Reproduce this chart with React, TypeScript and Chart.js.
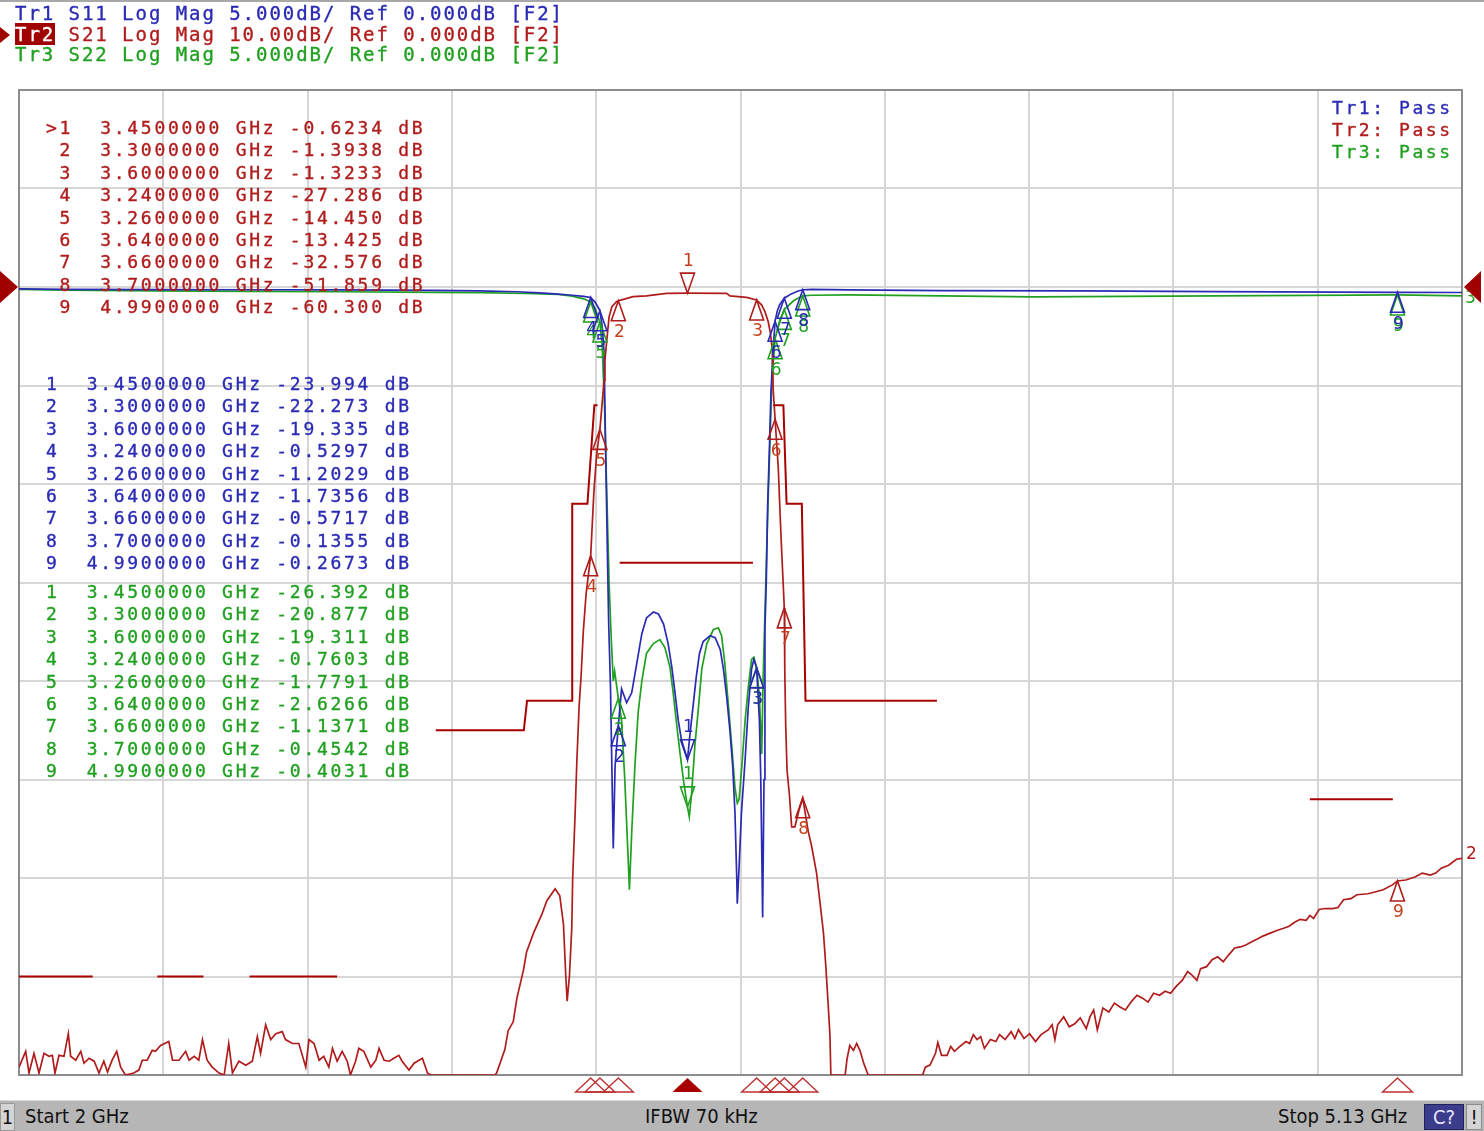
import React, { useEffect, useRef } from "react";
import { Chart, registerables } from "chart.js";

Chart.register(...registerables);

// ---- scale settings ----
const FREQ_START = 2;
const FREQ_STOP = 5.13;
const X_GRID = [2, 2.313, 2.626, 2.939, 3.252, 3.565, 3.878, 4.191, 4.504, 4.817, 5.13];
const S21_RANGE = [-80, 20]; // 10 dB/div, ref 0 dB at div 8
const S11_RANGE = [-40, 10]; // 5 dB/div, ref 0 dB at div 8

// ---- traces: [frequency GHz, dB] ----
const s21Trace: [number, number][] = [
  [2.000,-79.2],[2.0145,-77.6],[2.0217,-79.8],[2.0325,-77.8],[2.0434,-79.8],[2.0542,-77.8],[2.065,-78.1],[2.0723,-78.0],[2.078,-79.8],[2.0868,-78.0],
  [2.0976,-78.1],[2.107,-75.8],[2.112,-78.1],[2.123,-78.5],[2.134,-77.6],[2.141,-78.8],[2.152,-78.3],[2.163,-78.6],[2.1735,-79.8],[2.184,-78.6],
  [2.192,-79.7],[2.202,-78.5],[2.212,-77.6],[2.2205,-79.2],[2.231,-80.0],[2.249,-79.8],[2.260,-79.5],[2.2675,-78.5],[2.278,-78.5],[2.289,-77.5],
  [2.296,-77.6],[2.307,-77.0],[2.325,-76.6],[2.333,-78.5],[2.347,-78.5],[2.3615,-77.6],[2.369,-78.5],[2.380,-78.1],[2.390,-78.5],[2.398,-76.4],
  [2.408,-78.5],[2.419,-79.2],[2.434,-79.8],[2.445,-80.0],[2.455,-76.8],[2.463,-79.8],[2.477,-78.6],[2.492,-79.0],[2.506,-78.6],[2.517,-76.1],
  [2.524,-77.8],[2.535,-74.9],[2.546,-76.4],[2.557,-75.8],[2.571,-75.6],[2.578,-76.4],[2.593,-76.8],[2.607,-76.8],[2.622,-79.2],[2.629,-76.4],
  [2.640,-76.8],[2.651,-78.5],[2.661,-78.1],[2.672,-79.2],[2.680,-77.3],[2.690,-78.6],[2.701,-77.6],[2.712,-78.6],[2.719,-80.0],[2.730,-78.6],
  [2.737,-77.3],[2.748,-77.6],[2.763,-79.2],[2.774,-78.5],[2.781,-77.3],[2.792,-78.5],[2.803,-78.6],[2.813,-78.3],[2.824,-78.0],[2.831,-78.6],
  [2.846,-79.5],[2.857,-78.8],[2.875,-78.3],[2.886,-79.8],[2.893,-80.0],[2.954,-80.0],[3.032,-80.0],
  [3.036,-79.8],[3.054,-77.4],[3.061,-75.5],[3.072,-74.6],[3.080,-72.2],[3.094,-69.4],[3.101,-67.5],[3.116,-65.6],[3.134,-63.7],[3.145,-62.3],
  [3.163,-61.1],[3.173,-61.8],[3.181,-64.7],[3.186,-69.9],[3.189,-72.5],[3.194,-69.9],[3.199,-65.1],[3.201,-60.0],[3.206,-53.8],[3.210,-48.2],
  [3.215,-42.5],[3.219,-39.7],[3.224,-35.0],[3.230,-31.2],[3.240,-27.3],[3.247,-20.8],[3.253,-17.0],[3.260,-14.45],[3.264,-12.3],[3.269,-9.5],
  [3.271,-7.4],[3.275,-5.4],[3.280,-3.0],[3.286,-2.0],[3.296,-1.5],[3.300,-1.39],[3.311,-1.25],[3.332,-0.98],[3.361,-0.91],[3.405,-0.64],
  [3.450,-0.62],[3.535,-0.64],[3.542,-0.91],[3.578,-1.05],[3.600,-1.32],[3.611,-1.83],[3.618,-2.5],[3.625,-3.5],[3.630,-4.7],[3.634,-6.4],
  [3.636,-10.5],[3.640,-13.4],[3.647,-18.4],[3.651,-23.2],[3.654,-26.5],[3.660,-32.6],[3.661,-38.7],[3.663,-44.4],[3.666,-49.1],[3.671,-51.5],
  [3.676,-54.8],[3.683,-54.8],[3.692,-53.1],[3.700,-51.9],[3.712,-55.3],[3.719,-56.7],[3.730,-59.5],[3.737,-62.3],[3.745,-65.6],[3.750,-68.9],
  [3.755,-72.7],[3.759,-76.0],[3.761,-80.0],[3.792,-80.0],[3.796,-78.4],[3.802,-77.0],[3.810,-77.5],[3.817,-76.8],[3.824,-77.5],[3.833,-78.9],
  [3.842,-80.0],[3.960,-80.0],
  [3.966,-79.2],[3.976,-79.0],[3.988,-77.8],[3.993,-76.7],[4.001,-78.0],[4.013,-78.0],[4.021,-77.1],[4.029,-77.6],[4.041,-77.1],[4.054,-76.6],
  [4.062,-76.8],[4.070,-75.9],[4.078,-76.4],[4.086,-76.1],[4.094,-77.3],[4.107,-76.4],[4.119,-76.6],[4.127,-75.9],[4.139,-76.4],[4.152,-75.6],
  [4.160,-76.3],[4.168,-75.4],[4.180,-76.3],[4.192,-75.8],[4.205,-76.6],[4.217,-75.9],[4.233,-75.4],[4.241,-74.9],[4.247,-76.4],[4.253,-74.9],
  [4.266,-74.1],[4.278,-75.1],[4.290,-74.8],[4.302,-74.2],[4.315,-75.3],[4.323,-74.1],[4.331,-73.4],[4.339,-75.4],[4.351,-73.2],[4.364,-73.6],
  [4.376,-72.7],[4.388,-73.1],[4.400,-73.4],[4.412,-72.6],[4.425,-71.9],[4.437,-72.2],[4.449,-72.6],[4.461,-71.7],[4.474,-71.9],[4.486,-71.5],
  [4.498,-71.7],[4.510,-71.0],[4.523,-70.4],[4.535,-69.5],[4.543,-69.8],[4.555,-70.4],[4.563,-69.2],[4.576,-69.0],[4.588,-68.3],[4.600,-68.0],
  [4.612,-68.5],[4.624,-67.8],[4.637,-67.1],[4.649,-67.0],[4.661,-66.8],[4.673,-66.5],[4.686,-66.2],[4.698,-65.9],[4.714,-65.6],[4.730,-65.3],
  [4.743,-65.1],[4.755,-64.9],[4.767,-64.5],[4.779,-64.2],[4.792,-64.3],[4.800,-63.8],[4.808,-64.1],[4.820,-63.2],[4.832,-63.1],[4.849,-63.1],
  [4.861,-63.0],[4.873,-62.2],[4.889,-62.1],[4.902,-61.7],[4.926,-61.6],[4.943,-61.4],[4.959,-61.2],[4.979,-60.7],[4.990,-60.3],[5.008,-60.2],
  [5.028,-59.9],[5.044,-59.5],[5.061,-59.7],[5.073,-59.5],[5.085,-59.0],[5.101,-58.7],[5.118,-58.1],[5.130,-58.0],
];

const s11Trace: [number, number][] = [
  [2.000,-0.10],[2.100,-0.12],[2.300,-0.13],[2.500,-0.14],[2.700,-0.15],[2.900,-0.17],[3.000,-0.20],[3.080,-0.24],[3.130,-0.30],[3.170,-0.36],
  [3.200,-0.42],[3.225,-0.48],[3.240,-0.53],[3.250,-0.78],[3.260,-1.20],[3.265,-2.0],[3.269,-3.3],[3.274,-10.4],[3.279,-17.0],[3.283,-20.3],
  [3.289,-28.5],[3.293,-24.3],[3.300,-22.27],[3.307,-20.4],[3.318,-21.1],[3.329,-20.6],[3.340,-19.1],[3.351,-17.6],[3.361,-16.8],[3.376,-16.5],
  [3.387,-16.6],[3.398,-17.1],[3.408,-18.1],[3.416,-19.3],[3.423,-20.6],[3.430,-22.0],[3.437,-23.0],[3.450,-23.99],[3.455,-22.8],[3.462,-21.3],
  [3.469,-19.8],[3.476,-18.6],[3.484,-18.0],[3.499,-17.7],[3.510,-17.8],[3.521,-18.4],[3.528,-19.4],[3.535,-20.8],[3.542,-22.5],[3.548,-24.3],
  [3.553,-26.7],[3.557,-30.1],[3.558,-31.3],[3.562,-29.4],[3.567,-26.7],[3.575,-24.0],[3.582,-21.3],[3.589,-19.4],[3.594,-18.9],[3.600,-19.34],
  [3.606,-22.0],[3.609,-25.0],[3.611,-28.4],[3.613,-32.0],[3.616,-25.0],[3.618,-17.4],[3.621,-14.9],[3.624,-11.0],[3.628,-8.0],[3.631,-5.4],
  [3.635,-3.5],[3.640,-1.74],[3.645,-1.2],[3.650,-0.9],[3.660,-0.57],[3.675,-0.35],[3.690,-0.2],[3.700,-0.14],[3.720,-0.12],[3.800,-0.15],
  [4.000,-0.18],[4.300,-0.20],[4.600,-0.23],[4.990,-0.27],[5.130,-0.28],
];

const s22Trace: [number, number][] = [
  [2.000,-0.12],[2.100,-0.16],[2.300,-0.20],[2.500,-0.22],[2.700,-0.24],[2.900,-0.27],[3.000,-0.29],[3.100,-0.33],[3.170,-0.38],[3.200,-0.46],
  [3.225,-0.60],[3.240,-0.76],[3.250,-1.1],[3.260,-1.78],[3.265,-3.0],[3.270,-6.0],[3.275,-10.5],[3.280,-15.0],[3.284,-17.5],[3.289,-20.0],
  [3.292,-19.5],[3.300,-20.88],[3.307,-22.0],[3.314,-25.0],[3.322,-29.4],[3.324,-30.6],[3.329,-27.7],[3.336,-24.3],[3.343,-21.6],[3.351,-20.0],
  [3.361,-18.6],[3.376,-18.1],[3.390,-17.9],[3.401,-18.3],[3.412,-19.3],[3.419,-20.6],[3.427,-22.3],[3.434,-23.7],[3.441,-25.0],[3.450,-26.39],
  [3.454,-26.9],[3.459,-25.7],[3.466,-23.3],[3.474,-21.3],[3.481,-19.4],[3.492,-18.1],[3.506,-17.4],[3.517,-17.3],[3.524,-17.7],[3.531,-19.1],
  [3.539,-21.3],[3.546,-23.3],[3.553,-25.4],[3.558,-26.2],[3.562,-26.0],[3.568,-24.3],[3.575,-22.0],[3.582,-20.3],[3.589,-18.9],[3.594,-18.8],
  [3.600,-19.31],[3.606,-20.8],[3.611,-23.7],[3.614,-20.0],[3.617,-17.4],[3.620,-14.9],[3.624,-11.5],[3.628,-8.5],[3.632,-5.5],[3.636,-3.8],
  [3.640,-2.63],[3.650,-1.7],[3.660,-1.14],[3.680,-0.7],[3.700,-0.45],[3.720,-0.42],[3.800,-0.40],[4.000,-0.45],[4.200,-0.50],[4.500,-0.46],
  [4.800,-0.43],[4.990,-0.40],[5.130,-0.45],
];

// ---- limit lines (Tr2 scale) ----
const limitSegments: [number, number][][] = [
  [[2.0,-70],[2.16,-70]],
  [[2.30,-70],[2.40,-70]],
  [[2.50,-70],[2.69,-70]],
  [[2.904,-45],[3.095,-45],[3.102,-42],[3.200,-42],[3.200,-22],[3.233,-22],[3.248,-12],[3.255,-12]],
  [[3.303,-28],[3.592,-28]],
  [[3.636,-12],[3.658,-12],[3.665,-22],[3.698,-22],[3.706,-42],[3.991,-42]],
  [[4.80,-52],[4.98,-52]],
];

// ---- markers ----
const markerFreq = [3.45, 3.3, 3.6, 3.24, 3.26, 3.64, 3.66, 3.7, 4.99];
const s21Marker = [-0.6234, -1.3938, -1.3233, -27.286, -14.450, -13.425, -32.576, -51.859, -60.300];
const s11Marker = [-23.994, -22.273, -19.335, -0.5297, -1.2029, -1.7356, -0.5717, -0.1355, -0.2673];
const s22Marker = [-26.392, -20.877, -19.311, -0.7603, -1.7791, -2.6266, -1.1371, -0.4542, -0.4031];

const headerLines = [
  "Tr1 S11 Log Mag 5.000dB/ Ref 0.000dB [F2]",
  "Tr2 S21 Log Mag 10.00dB/ Ref 0.000dB [F2]",
  "Tr3 S22 Log Mag 5.000dB/ Ref 0.000dB [F2]",
];
const passLines = ["Tr1: Pass", "Tr2: Pass", "Tr3: Pass"];

const C1 = "#2a2ab4";
const C2 = "#b01c1c";
const C3 = "#20a020";
const CLIM = "#a80000";
const MONO = '"DejaVu Sans Mono", "Liberation Mono", monospace';

const fmtDb = (v: number) => (Math.abs(v) < 10 ? v.toFixed(4) : v.toFixed(3));

const vnaPlugin = {
  id: "vna",
  beforeDatasetsDraw(chart: any) {
    const { ctx, chartArea: a } = chart;
    ctx.save();
    ctx.strokeStyle = "#8c8c8c";
    ctx.lineWidth = 2;
    ctx.strokeRect(a.left, a.top, a.right - a.left, a.bottom - a.top);
    ctx.restore();
  },
  afterDatasetsDraw(chart: any) {
    const { ctx, chartArea: a } = chart;
    const xs = chart.scales.x;
    const drawSet = (vals: number[], sid: string, col: string, lab: string) => {
      const ys = chart.scales[sid];
      markerFreq.forEach((f, i) => {
        const px = xs.getPixelForValue(f);
        let py = ys.getPixelForValue(vals[i]);
        py = Math.min(Math.max(py, a.top), a.bottom);
        ctx.save();
        ctx.strokeStyle = col;
        ctx.lineWidth = 1.6;
        ctx.beginPath();
        const dir = i === 0 ? -1 : 1;
        ctx.moveTo(px, py);
        ctx.lineTo(px - 7, py + dir * 20);
        ctx.lineTo(px + 7, py + dir * 20);
        ctx.closePath();
        ctx.stroke();
        ctx.fillStyle = lab;
        ctx.font = '17px "DejaVu Sans"';
        ctx.textAlign = "center";
        ctx.textBaseline = "middle";
        ctx.fillText(String(i + 1), px + 1, py + dir * 32);
        ctx.restore();
      });
    };
    drawSet(s22Marker, "y2", C3, C3);
    drawSet(s11Marker, "y1", C1, C1);
    drawSet(s21Marker, "y", C2, "#c4401c");

    // stimulus indicators below grid (active trace)
    markerFreq.forEach((f, i) => {
      const px = xs.getPixelForValue(f);
      ctx.save();
      ctx.beginPath();
      ctx.moveTo(px, a.bottom + 3);
      ctx.lineTo(px - 15, a.bottom + 17);
      ctx.lineTo(px + 15, a.bottom + 17);
      ctx.closePath();
      if (i === 0) {
        ctx.fillStyle = "#a80000";
        ctx.fill();
      } else {
        ctx.strokeStyle = "#c03030";
        ctx.lineWidth = 1.4;
        ctx.stroke();
      }
      ctx.restore();
    });

    // reference level arrows
    const yr = chart.scales.y.getPixelForValue(0);
    ctx.save();
    ctx.fillStyle = "#a00000";
    ctx.beginPath();
    ctx.moveTo(0, yr - 16);
    ctx.lineTo(18, yr);
    ctx.lineTo(0, yr + 16);
    ctx.closePath();
    ctx.fill();
    // trace end labels
    ctx.font = '17px "DejaVu Sans"';
    ctx.textAlign = "left";
    ctx.textBaseline = "middle";
    const lastS22 = s22Trace[s22Trace.length - 1];
    ctx.fillStyle = C3;
    ctx.fillText("3", a.right + 3, chart.scales.y2.getPixelForValue(lastS22[1]) + 3);
    const lastS21 = s21Trace[s21Trace.length - 1];
    ctx.fillStyle = C2;
    ctx.fillText("2", a.right + 4, chart.scales.y.getPixelForValue(lastS21[1]) - 4);
    ctx.fillStyle = "#a00000";
    ctx.beginPath();
    ctx.moveTo(a.right + 2, yr);
    ctx.lineTo(a.right + 19, yr - 16);
    ctx.lineTo(a.right + 19, yr + 16);
    ctx.closePath();
    ctx.fill();
    ctx.restore();
  },
};

function Line({ x, cy, color, ls, size = 18, children }: any) {
  return (
    <div
      style={{
        position: "absolute",
        left: x,
        top: cy - 11,
        height: 22,
        lineHeight: "22px",
        fontFamily: MONO,
        fontSize: size,
        letterSpacing: ls,
        color,
        whiteSpace: "pre",
        WebkitTextStroke: "0.35px currentColor",
      }}
    >
      {children}
    </div>
  );
}

export default function App() {
  const ref = useRef<HTMLCanvasElement>(null);

  useEffect(() => {
    const toXY = (pts: [number, number][]) => pts.map(([x, y]) => ({ x, y }));
    const gridCfg = { color: "#d6d6d6", lineWidth: 2, drawTicks: false };
    const chart = new Chart(ref.current as HTMLCanvasElement, {
      type: "line",
      data: {
        datasets: [
          ...limitSegments.map((seg, i) => ({
            label: "Limit " + (i + 1),
            data: toXY(seg),
            yAxisID: "y",
            borderColor: CLIM,
            borderWidth: 2,
            pointRadius: 0,
            fill: false,
          })),
          { label: "S21", data: toXY(s21Trace), yAxisID: "y", borderColor: C2, borderWidth: 1.7, pointRadius: 0, fill: false },
          { label: "S11", data: toXY(s11Trace), yAxisID: "y1", borderColor: C1, borderWidth: 1.7, pointRadius: 0, fill: false },
          { label: "S22", data: toXY(s22Trace), yAxisID: "y2", borderColor: C3, borderWidth: 1.7, pointRadius: 0, fill: false },
        ],
      },
      options: {
        responsive: false,
        animation: false,
        events: [],
        layout: { padding: { left: 19, top: 90, right: 22, bottom: 56 } },
        plugins: { legend: { display: false }, tooltip: { enabled: false } },
        elements: { line: { tension: 0 }, point: { radius: 0 } },
        scales: {
          x: {
            type: "linear",
            min: FREQ_START,
            max: FREQ_STOP,
            ticks: { display: false },
            grid: gridCfg,
            border: { display: false },
            afterBuildTicks: (s: any) => {
              s.ticks = X_GRID.map((v) => ({ value: v }));
            },
          },
          y: {
            type: "linear",
            min: S21_RANGE[0],
            max: S21_RANGE[1],
            ticks: { display: false, stepSize: 10 },
            grid: gridCfg,
            border: { display: false },
          },
          y1: { type: "linear", display: false, min: S11_RANGE[0], max: S11_RANGE[1] },
          y2: { type: "linear", display: false, min: S11_RANGE[0], max: S11_RANGE[1] },
        },
      } as any,
      plugins: [vnaPlugin as any],
    });
    return () => chart.destroy();
  }, []);

  const rowStep = 22.4;
  const tr2Rows = markerFreq.map(
    (f, i) => `${i === 0 ? ">" : " "}${i + 1}  ${f.toFixed(7)} GHz ${fmtDb(s21Marker[i])} dB`
  );
  const tr1Rows = markerFreq.map((f, i) => `${i + 1}  ${f.toFixed(7)} GHz ${fmtDb(s11Marker[i])} dB`);
  const tr3Rows = markerFreq.map((f, i) => `${i + 1}  ${f.toFixed(7)} GHz ${fmtDb(s22Marker[i])} dB`);

  const statusFont = '"DejaVu Sans Condensed", "Liberation Sans Narrow", sans-serif';
  const statusText = { position: "absolute" as const, top: 0, lineHeight: "30px", fontFamily: statusFont, fontSize: 20, color: "#111", whiteSpace: "pre" as const };

  return (
    <div style={{ position: "absolute", left: 0, top: 0, width: 1484, height: 1131, background: "#fff", overflow: "hidden" }}>
      <div style={{ position: "absolute", left: 0, top: 0, width: 1484, height: 2, background: "#a8a8a8" }} />
      <canvas ref={ref} width={1484} height={1131} style={{ position: "absolute", left: 0, top: 0 }} />

      {/* header */}
      <Line x={15} cy={13} color={C1} ls={1.95} size={19}>{headerLines[0]}</Line>
      <Line x={15} cy={34} color={C2} ls={1.95} size={19}>
        <span style={{ background: "#a00000", color: "#fff" }}>{headerLines[1].slice(0, 3)}</span>
        {headerLines[1].slice(3)}
      </Line>
      <Line x={15} cy={54} color={C3} ls={1.95} size={19}>{headerLines[2]}</Line>
      <div
        style={{
          position: "absolute",
          left: 0,
          top: 27,
          width: 0,
          height: 0,
          borderTop: "8px solid transparent",
          borderBottom: "8px solid transparent",
          borderLeft: "10px solid #a00000",
        }}
      />

      {/* marker tables */}
      {tr2Rows.map((t, i) => (
        <Line key={"r" + i} x={46} cy={128 + i * rowStep} color={C2} ls={2.71}>{t}</Line>
      ))}
      {tr1Rows.map((t, i) => (
        <Line key={"b" + i} x={46} cy={384 + i * rowStep} color={C1} ls={2.71}>{t}</Line>
      ))}
      {tr3Rows.map((t, i) => (
        <Line key={"g" + i} x={46} cy={592 + i * rowStep} color={C3} ls={2.71}>{t}</Line>
      ))}

      {/* pass/fail */}
      {passLines.map((t, i) => (
        <Line key={"p" + i} x={1332} cy={108 + i * 22} color={[C1, C2, C3][i]} ls={2.56}>{t}</Line>
      ))}

      {/* status bar */}
      <div style={{ position: "absolute", left: 0, top: 1100, width: 1484, height: 31, background: "#b6b6b6", borderTop: "1px solid #dadada" }}>
        <div style={{ position: "absolute", left: 0, top: 2, width: 13, height: 26, background: "#d4d4d4", border: "1px solid #9a9a9a", fontFamily: statusFont, fontSize: 20, lineHeight: "26px", color: "#111", textAlign: "center" }}>1</div>
        <div style={{ ...statusText, left: 25 }}>Start 2 GHz</div>
        <div style={{ ...statusText, left: 645 }}>IFBW 70 kHz</div>
        <div style={{ ...statusText, left: 1278 }}>Stop 5.13 GHz</div>
        <div style={{ position: "absolute", left: 1424, top: 3, width: 38, height: 24, background: "#3c3c8c", border: "1px solid #22225a", fontFamily: statusFont, fontSize: 20, lineHeight: "24px", color: "#e6e6ff", textAlign: "center" }}>C?</div>
        <div style={{ position: "absolute", left: 1466, top: 3, width: 14, height: 24, background: "#d4d4d4", border: "1px solid #8a8a8a", fontFamily: statusFont, fontSize: 20, lineHeight: "24px", color: "#111", textAlign: "center" }}>!</div>
      </div>
    </div>
  );
}
